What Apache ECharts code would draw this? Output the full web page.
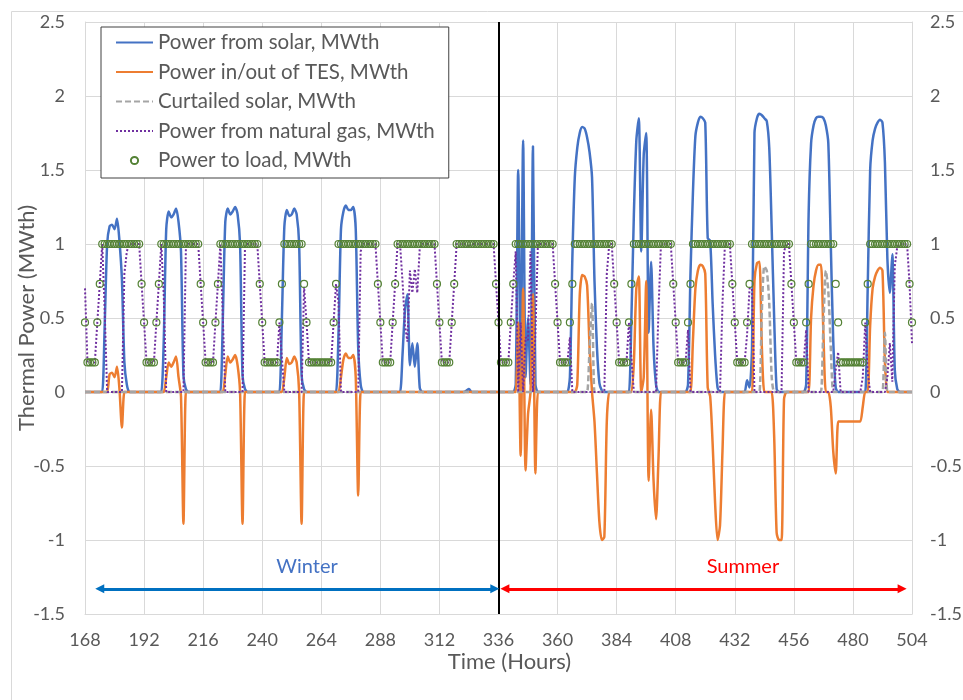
<!DOCTYPE html>
<html>
<head>
<meta charset="utf-8">
<script src="https://cdn.jsdelivr.net/npm/echarts@6/dist/echarts.min.js"></script>
<style>
  html, body { margin: 0; padding: 0; background: #fff; }
  #chart { width: 963px; height: 700px; }
</style>
</head>
<body>
<div id="chart"></div>
<script>
// hourly values, one line per day (24 h), hours 168..504
var solar = [
  0,0,0,0,0,0,0,0,0.45,1.0,1.12,1.13,1.1,1.17,1.02,0.76,0.2,0.05,0,0,0,0,0,0,
  0,0,0,0,0,0,0,0,0.35,1.1,1.22,1.18,1.2,1.24,1.15,0.95,0.11,0.02,0,0,0,0,0,0,
  0,0,0,0,0,0,0,0,0.5,1.15,1.24,1.2,1.22,1.25,1.2,1.0,0.11,0.02,0,0,0,0,0,0,
  0,0,0,0,0,0,0,0,0.5,1.12,1.23,1.19,1.2,1.24,1.2,1.0,0.11,0.02,0,0,0,0,0,0,
  0,0,0,0,0,0,0,0.4,1.1,1.22,1.26,1.23,1.23,1.25,1.1,0.3,0.05,0,0,0,0,0,0,0,
  0,0,0,0,0,0,0,0,0,0.25,0.55,0.66,0.18,0.33,0.17,0.33,0.03,0,0,0,0,0,0,0,
  0,0,0,0,0,0,0,0,0,0,0,0.01,0.02,0,0,0,0,0,0,0,0,0,0,0,
  0,0,0,0,0,0,0,0.05,1.5,0.1,1.7,0.1,0.5,0.05,1.66,0.05,0,0,0,0,0,0,0,0,
  0,0,0,0,0,0.1,0.9,1.45,1.65,1.75,1.79,1.78,1.72,1.62,1.45,0.75,0.3,0.06,0.01,0,0,0,0,0,
  0,0,0,0,0,0,0.5,1.2,1.7,1.85,0.95,1.6,1.75,0.4,0.88,0.3,0.05,0,0,0,0,0,0,0,
  0,0,0,0,0,0.05,0.8,1.35,1.73,1.82,1.86,1.85,1.82,1.04,1.02,0.6,0.25,0.03,0,0,0,0,0,0,
  0,0,0,0,0,0.08,0.03,0.3,1.75,1.85,1.88,1.87,1.85,1.83,1.65,1.1,0.5,0.02,0,0,0,0,0,0,
  0,0,0,0,0,0.05,1.2,1.68,1.8,1.85,1.86,1.86,1.85,1.8,1.68,1.0,0.35,0.03,0,0,0,0,0,0,
  0,0,0,0,0,0,0.7,1.5,1.7,1.78,1.82,1.84,1.82,1.55,0.9,0.67,0.93,0.15,0.02,0,0,0,0,0,
  0
];

var tes = [
  0,0,0,0,0,0,0,0,0,0,0.12,0.13,0.1,0.17,0.02,-0.24,0,0,0,0,0,0,0,0,
  0,0,0,0,0,0,0,0,0,0.1,0.2,0.17,0.2,0.24,0.1,-0.03,-0.89,0,0,0,0,0,0,0,
  0,0,0,0,0,0,0,0,0,0.12,0.24,0.2,0.22,0.25,0.18,0,-0.89,0,0,0,0,0,0,0,
  0,0,0,0,0,0,0,0,0,0.1,0.23,0.19,0.2,0.24,0.2,0,-0.89,0,0,0,0,0,0,0,
  0,0,0,0,0,0,0,0,0.1,0.22,0.26,0.23,0.23,0.25,0.1,-0.7,0,0,0,0,0,0,0,0,
  0,0,0,0,0,0,0,0,0,0,0,0,0,0,0,0,0,0,0,0,0,0,0,0,
  0,0,0,0,0,0,0,0,0,0,0,0,0,0,0,0,0,0,0,0,0,0,0,0,
  0,0,0,0,0,0,0,0,0.47,-0.43,0.7,-0.53,-0.15,0,0.66,-0.55,0,0,0,0,0,0,0,0,
  0,0,0,0,0,0,0,0,0.05,0.65,0.79,0.78,0.72,0.3,0,-0.2,-0.55,-0.88,-1.0,-0.98,-0.2,0,0,0,
  0,0,0,0,0,0,0,0.2,0.7,0.78,0,0.1,0.75,-0.6,-0.12,-0.6,-0.86,-0.45,0,0,0,0,0,0,
  0,0,0,0,0,0,0,0.35,0.7,0.82,0.86,0.85,0.8,0.03,-0.03,-0.35,-0.75,-1.0,-0.9,-0.4,0,0,0,0,
  0,0,0,0,0,0,0,0,0.75,0.87,0.88,0.3,0,0,0,0,-0.3,-0.95,-1.0,-1.0,-0.05,0,0,0,
  0,0,0,0,0,0,0,0.5,0.72,0.82,0.86,0.86,0.4,0,0,-0.1,-0.4,-0.55,-0.2,-0.2,-0.2,-0.2,-0.2,-0.2,
  -0.2,-0.2,-0.2,-0.2,-0.1,0,0,0.45,0.7,0.78,0.82,0.84,0.82,0.2,0,0,0,0,0,0,0,0,0,0,
  0
];

var curtailed = [
  0,0,0,0,0,0,0,0,0,0,0,0,0,0,0,0,0,0,0,0,0,0,0,0,
  0,0,0,0,0,0,0,0,0,0,0,0,0,0,0,0,0,0,0,0,0,0,0,0,
  0,0,0,0,0,0,0,0,0,0,0,0,0,0,0,0,0,0,0,0,0,0,0,0,
  0,0,0,0,0,0,0,0,0,0,0,0,0,0,0,0,0,0,0,0,0,0,0,0,
  0,0,0,0,0,0,0,0,0,0,0,0,0,0,0,0,0,0,0,0,0,0,0,0,
  0,0,0,0,0,0,0,0,0,0,0,0,0,0,0,0,0,0,0,0,0,0,0,0,
  0,0,0,0,0,0,0,0,0,0,0,0,0,0,0,0,0,0,0,0,0,0,0,0,
  0,0,0,0,0,0,0,0,0,0,0,0,0,0,0,0,0,0,0,0,0,0,0,0,
  0,0,0,0,0,0,0,0,0,0,0,0,0,0.3,0.6,0,0,0,0,0,0,0,0,0,
  0,0,0,0,0,0,0,0,0,0,0,0,0,0,0,0,0,0,0,0,0,0,0,0,
  0,0,0,0,0,0,0,0,0,0,0,0,0,0,0,0,0,0,0,0,0,0,0,0,
  0,0,0,0,0,0,0,0,0,0,0,0.55,0.85,0.82,0.6,0.1,0,0,0,0,0,0,0,0,
  0,0,0,0,0,0,0,0,0,0,0,0,0.45,0.82,0.68,0.3,0,0,0,0,0,0,0,0,
  0,0,0,0,0,0,0,0,0,0,0,0,0,0.4,0,0,0,0,0,0,0,0,0,0,
  0
];

var gas = [
  0.7,0.2,0.2,0.2,0.2,0.47,0.73,1,0.55,0,0,0,0,0,0,0,0.8,0.95,1,1,1,1,1,0.73,
  0.47,0.2,0.2,0.2,0.2,0.47,0.73,1,0.65,0,0,0,0,0,0,0,0,0.98,1,1,1,1,1,0.73,
  0.47,0.2,0.2,0.2,0.2,0.47,0.73,1,0.5,0,0,0,0,0,0,0,0,0.98,1,1,1,1,1,0.73,
  0.47,0.2,0.2,0.2,0.2,0.2,0.2,0.47,0.23,0,0,0,0,0,0,0,0,0.71,0.47,0.2,0.2,0.2,0.2,0.2,
  0.2,0.2,0.2,0.2,0.2,0.47,0.73,0.6,0,0,0,0,0,0,0,0,0.95,1,1,1,1,1,1,0.73,
  0.47,0.2,0.2,0.2,0.2,0.47,0.73,1,1,0.75,0.45,0.34,0.82,0.67,0.83,0.67,0.97,1,1,1,1,1,1,0.73,
  0.47,0.2,0.2,0.2,0.2,0.47,0.73,1,1,1,1,1,0.98,1,1,1,1,1,1,1,1,1,1,0.73,
  0.47,0.2,0.2,0.2,0.2,0.47,0.73,0.95,0,0.47,0,0.37,0.35,0.95,0,0.4,1,1,1,1,1,1,1,0.73,
  0.47,0.2,0.2,0.2,0.2,0.37,0,0,0,0,0,0,0,0,0,0,0,0,0,0,0.8,1,1,0.73,
  0.47,0.2,0.2,0.2,0.2,0.47,0.23,0,0,0,0,0,0,0,0,0,0,0.55,1,1,1,1,1,0.73,
  0.47,0.2,0.2,0.2,0.2,0.42,0,0,0,0,0,0,0,0,0,0,0,0,0,0.6,1,1,1,0.73,
  0.47,0.2,0.2,0.2,0.2,0.39,0.7,0.7,0,0,0,0,0,0,0,0,0,0,0,0,0.95,1,1,0.73,
  0.47,0.2,0.2,0.2,0.2,0.42,0,0,0,0,0,0,0,0,0,0,0,0.15,0.27,0,0,0,0,0,
  0,0,0,0,0.1,0.47,0.13,0,0,0,0,0,0,0,0.1,0.33,0.07,0.85,0.98,1,1,1,1,0.73,
  0.33
];

var load = [
  0.47,0.2,0.2,0.2,0.2,0.47,0.73,1,1,1,1,1,1,1,1,1,1,1,1,1,1,1,1,0.73,
  0.47,0.2,0.2,0.2,0.2,0.47,0.73,1,1,1,1,1,1,1,1,1,1,1,1,1,1,1,1,0.73,
  0.47,0.2,0.2,0.2,0.2,0.47,0.73,1,1,1,1,1,1,1,1,1,1,1,1,1,1,1,1,0.73,
  0.47,0.2,0.2,0.2,0.2,0.2,0.2,0.47,0.73,1,1,1,1,1,1,1,1,0.73,0.47,0.2,0.2,0.2,0.2,0.2,
  0.2,0.2,0.2,0.2,0.2,0.47,0.73,1,1,1,1,1,1,1,1,1,1,1,1,1,1,1,1,0.73,
  0.47,0.2,0.2,0.2,0.2,0.47,0.73,1,1,1,1,1,1,1,1,1,1,1,1,1,1,1,1,0.73,
  0.47,0.2,0.2,0.2,0.2,0.47,0.73,1,1,1,1,1,1,1,1,1,1,1,1,1,1,1,1,0.73,
  0.47,0.2,0.2,0.2,0.2,0.47,0.73,1,1,1,1,1,1,1,1,1,1,1,1,1,1,1,1,0.73,
  0.47,0.2,0.2,0.2,0.2,0.47,0.73,1,1,1,1,1,1,1,1,1,1,1,1,1,1,1,1,0.73,
  0.47,0.2,0.2,0.2,0.2,0.47,0.73,1,1,1,1,1,1,1,1,1,1,1,1,1,1,1,1,0.73,
  0.47,0.2,0.2,0.2,0.2,0.47,0.73,1,1,1,1,1,1,1,1,1,1,1,1,1,1,1,1,0.73,
  0.47,0.2,0.2,0.2,0.2,0.47,0.73,1,1,1,1,1,1,1,1,1,1,1,1,1,1,1,1,0.73,
  0.47,0.2,0.2,0.2,0.2,0.47,0.73,1,1,1,1,1,1,1,1,1,1,0.73,0.47,0.2,0.2,0.2,0.2,0.2,
  0.2,0.2,0.2,0.2,0.2,0.47,0.73,1,1,1,1,1,1,1,1,1,1,1,1,1,1,1,1,0.73,
  0.47
];

var hours = [];
for (var h = 168; h <= 504; h++) hours.push(h);

function pairs(vals) {
  return hours.map(function (hr, i) { return [hr, vals[i]]; });
}

var font = 'Lato, "Liberation Sans", sans-serif';
var grey = '#595959';
var gridGrey = '#d9d9d9';

var myChart = echarts.init(document.getElementById('chart'));

var option = {
  animation: false,
  textStyle: { fontFamily: font },
  graphic: [{
    type: 'rect', left: 9, top: 9, silent: true, z: -10,
    shape: { width: 1000, height: 1000 },
    style: { fill: 'none', stroke: gridGrey, lineWidth: 1 }
  }],
  grid: { left: 85, right: 51, top: 22, bottom: 86, outerBoundsMode: 'none' },
  legend: {
    orient: 'vertical',
    left: 101,
    top: 27,
    padding: [5, 14, 7, 14],
    itemGap: 8.5,
    itemWidth: 37,
    itemHeight: 9,
    borderColor: '#404040',
    borderWidth: 1,
    backgroundColor: '#fff',
    textStyle: { fontFamily: font, fontSize: 20.5, color: grey, lineHeight: 20 },
    data: [
      { name: 'Power from solar, MWth', itemStyle: { opacity: 0 } },
      { name: 'Power in/out of TES, MWth', itemStyle: { opacity: 0 } },
      { name: 'Curtailed solar, MWth', itemStyle: { opacity: 0 } },
      { name: 'Power from natural gas, MWth', itemStyle: { opacity: 0 } },
      { name: 'Power to load, MWth' }
    ]
  },
  xAxis: {
    type: 'value', min: 168, max: 504, interval: 24,
    name: 'Time (Hours)', nameLocation: 'middle', nameGap: 37, nameMoveOverlap: false,
    nameTextStyle: { fontSize: 22, color: grey, padding: [0, 0, 0, 22] },
    axisLine: { show: true, onZero: false, lineStyle: { color: gridGrey } },
    axisTick: { show: false },
    axisLabel: { fontSize: 18, color: grey, margin: 17 },
    splitLine: { show: true, lineStyle: { color: gridGrey } }
  },
  yAxis: [{
    type: 'value', min: -1.5, max: 2.5, interval: 0.5,
    name: 'Thermal Power (MWth)', nameLocation: 'middle', nameGap: 47, nameMoveOverlap: false,
    nameTextStyle: { fontSize: 22, color: grey },
    axisLine: { show: true, lineStyle: { color: gridGrey } },
    axisTick: { show: false },
    axisLabel: { fontSize: 18, color: grey, margin: 20 },
    splitLine: { show: true, lineStyle: { color: gridGrey } }
  }, {
    type: 'value', position: 'right', min: -1.5, max: 2.5, interval: 0.5,
    axisLine: { show: true, lineStyle: { color: gridGrey } },
    axisTick: { show: false },
    axisLabel: { fontSize: 18, color: grey, margin: 18 },
    splitLine: { show: false }
  }],
  series: [{
    name: 'Power from solar, MWth',
    type: 'line',
    data: pairs(solar),
    symbol: 'none',
    smooth: 0.25,
    lineStyle: { color: '#4472C4', width: 2.5 },
    itemStyle: { color: '#4472C4' },
    markLine: {
      silent: true,
      symbol: ['none', 'none'],
      label: { show: false },
      data: [
        { xAxis: 336, lineStyle: { color: '#000', width: 2, type: 'solid' } },
        [
          { coord: [174, -1.33], symbol: 'triangle', symbolSize: [9, 9], lineStyle: { color: '#0070C0', width: 3, type: 'solid' } },
          { coord: [334.5, -1.33], symbol: 'triangle', symbolSize: [9, 9] }
        ],
        [
          { coord: [338.6, -1.33], symbol: 'triangle', symbolSize: [9, 9], lineStyle: { color: '#FF0000', width: 3, type: 'solid' } },
          { coord: [500, -1.33], symbol: 'triangle', symbolSize: [9, 9] }
        ]
      ]
    },
    markPoint: {
      silent: true,
      symbol: 'rect',
      symbolSize: 1,
      itemStyle: { color: 'rgba(0,0,0,0)' },
      label: { show: true, position: 'inside', fontSize: 20, fontFamily: font },
      data: [
        { coord: [258.2, -1.18], label: { formatter: 'Winter', color: '#4472C4' } },
        { coord: [435.3, -1.18], label: { formatter: 'Summer', color: '#FF0000' } }
      ]
    }
  }, {
    name: 'Power in/out of TES, MWth',
    type: 'line',
    data: pairs(tes),
    symbol: 'none',
    smooth: 0.25,
    lineStyle: { color: '#ED7D31', width: 2.5 },
    itemStyle: { color: '#ED7D31' }
  }, {
    name: 'Curtailed solar, MWth',
    type: 'line',
    data: pairs(curtailed),
    symbol: 'none',
    smooth: 0.25,
    lineStyle: { color: '#A5A5A5', width: 2.5, type: [6, 3] },
    itemStyle: { color: '#A5A5A5' }
  }, {
    name: 'Power from natural gas, MWth',
    type: 'line',
    data: pairs(gas),
    symbol: 'none',
    lineStyle: { color: '#7030A0', width: 2, type: [2, 2] },
    itemStyle: { color: '#7030A0' }
  }, {
    name: 'Power to load, MWth',
    type: 'line',
    data: pairs(load),
    symbol: 'circle',
    symbolSize: 7,
    showSymbol: true,
    showAllSymbol: true,
    lineStyle: { width: 0, opacity: 0 },
    itemStyle: { color: 'rgba(255,255,255,0)', borderColor: '#548235', borderWidth: 1.2 }
  }]
};

myChart.setOption(option);
</script>
</body>
</html>
